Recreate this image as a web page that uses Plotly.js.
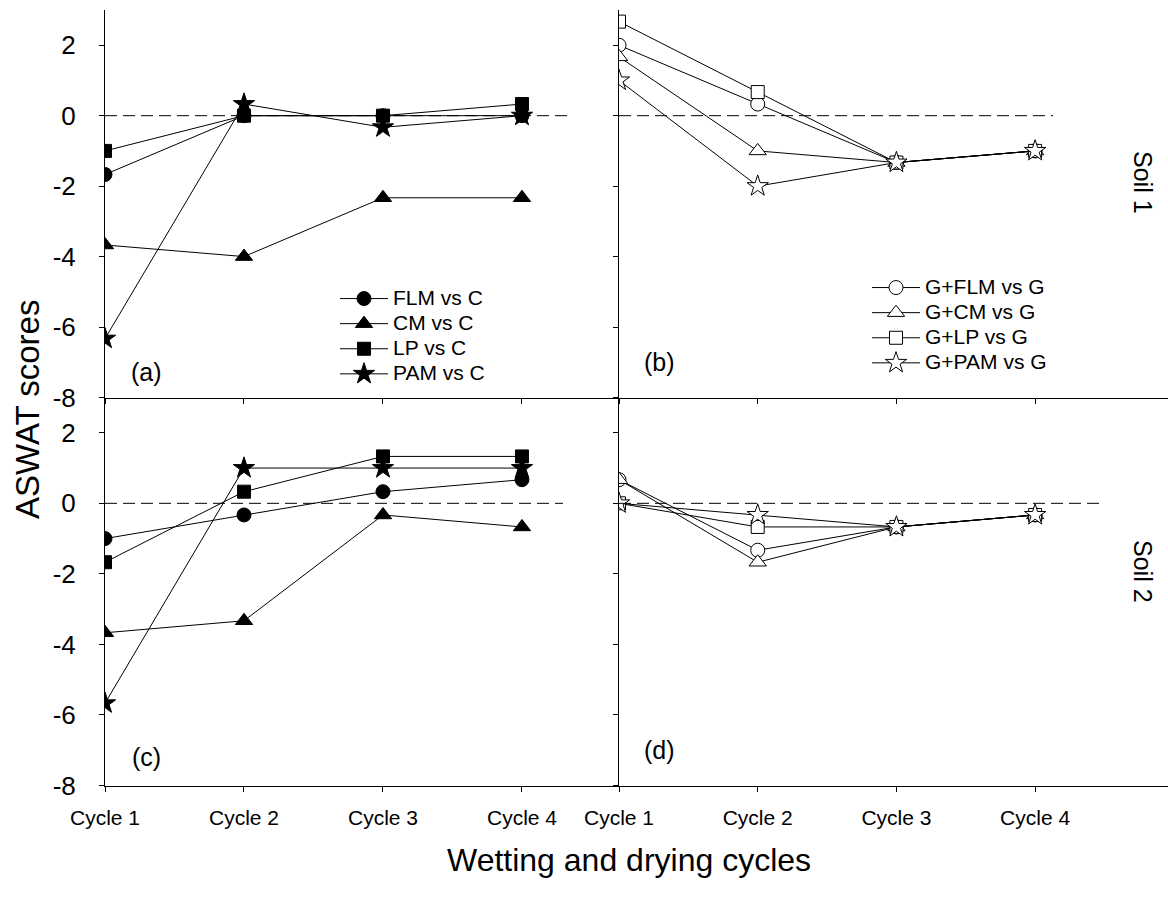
<!DOCTYPE html>
<html>
<head>
<meta charset="utf-8">
<script src="https://cdn.plot.ly/plotly-3.0.1.min.js"></script>
<style>html,body{margin:0;padding:0;background:#fff;}#chart{width:1168px;height:907px;}</style>
</head>
<body>
<div id="chart"></div>
<script>
// ---- data ----
const cycles = ['Cycle 1', 'Cycle 2', 'Cycle 3', 'Cycle 4'];
const yTicks = [-8, -6, -4, -2, 0, 2];

// Soil 1, panel (a)
const s1_FLM = [-1.67, 0, 0, 0];
const s1_CM = [-3.67, -4, -2.33, -2.33];
const s1_LP = [-1, 0, 0, 0.33];
const s1_PAM = [-6.33, 0.33, -0.33, 0];
// Soil 1, panel (b)
const s1_GFLM = [2, 0.33, -1.33, -1];
const s1_GCM = [1.67, -1, -1.33, -1];
const s1_GLP = [2.67, 0.67, -1.33, -1];
const s1_GPAM = [1, -2, -1.33, -1];
// Soil 2, panel (c)
const s2_FLM = [-1, -0.33, 0.33, 0.67];
const s2_CM = [-3.67, -3.33, -0.33, -0.67];
const s2_LP = [-1.67, 0.33, 1.33, 1.33];
const s2_PAM = [-5.67, 1, 1, 1];
// Soil 2, panel (d)
const s2_GFLM = [0.67, -1.33, -0.67, -0.33];
const s2_GCM = [0.67, -1.67, -0.67, -0.33];
const s2_GLP = [0, -0.67, -0.67, -0.33];
const s2_GPAM = [0, -0.33, -0.67, -0.33];

const namesA = ['FLM vs C', 'CM vs C', 'LP vs C', 'PAM vs C'];
const namesB = ['G+FLM vs G', 'G+CM vs G', 'G+LP vs G', 'G+PAM vs G'];

// ---- styling ----
const FONT = 'Liberation Sans, Arial, sans-serif';
const symbols = ['circle', 'triangle-up', 'square', 'star'];
const sizes = [14, 15, 13, 16];
const legendLabel = s => '<span style="font-size:21px">' + s + '</span>';

function tr(y, name, i, xa, ya, filled, showlegend, legend) {
  return {
    x: cycles, y: y, name: legendLabel(name), type: 'scatter', mode: 'lines+markers',
    xaxis: xa, yaxis: ya, showlegend: showlegend, legend: legend,
    line: {color: 'black', width: 1},
    marker: {symbol: symbols[i], size: sizes[i], color: filled ? 'black' : 'white',
             line: {color: 'black', width: 1}}
  };
}

const data = [];
[s1_FLM, s1_CM, s1_LP, s1_PAM].forEach((y, i) => data.push(tr(y, namesA[i], i, 'x', 'y', true, true, 'legend')));
[s1_GFLM, s1_GCM, s1_GLP, s1_GPAM].forEach((y, i) => data.push(tr(y, namesB[i], i, 'x2', 'y2', false, true, 'legend2')));
[s2_FLM, s2_CM, s2_LP, s2_PAM].forEach((y, i) => data.push(tr(y, namesA[i], i, 'x3', 'y3', true, false, 'legend')));
[s2_GFLM, s2_GCM, s2_GLP, s2_GPAM].forEach((y, i) => data.push(tr(y, namesB[i], i, 'x4', 'y4', false, false, 'legend2')));

const W = 1168, H = 907;
const px = v => v / W;
const py = v => 1 - v / H;

const leftDom = [px(105), px(619)];
const rightDom = [px(619), 1];
const topDom = [py(397.5), py(10)];
const botDom = [py(785.5), py(397.5)];

function xAxis(dom, anchor, range, labels) {
  return {
    domain: dom, anchor: anchor, type: 'category', range: range,
    showline: true, linecolor: 'black', linewidth: 1,
    ticks: 'outside', ticklen: 5, tickwidth: 1, tickcolor: 'black',
    showgrid: false, zeroline: false, showticklabels: labels,
    tickfont: {family: FONT, size: 21, color: 'black'}, ticklabelstandoff: 8,
    automargin: false, fixedrange: true
  };
}
function yAxis(dom, anchor, labels) {
  return {
    domain: dom, anchor: anchor, range: [-8, 3],
    tickmode: 'array', tickvals: yTicks, ticktext: yTicks.map(String),
    showline: true, linecolor: 'black', linewidth: 1,
    ticks: 'outside', ticklen: 5, tickwidth: 1, tickcolor: 'black',
    showgrid: false, zeroline: false, showticklabels: labels,
    tickfont: {family: FONT, size: 26, color: 'black'}, ticklabelstandoff: 18,
    automargin: false, fixedrange: true
  };
}

const leftRange = [0, 3.698];
const rightRange = [0, 3.958];

function zeroLine(xref, yref, xend) {
  return {type: 'line', xref: xref, yref: yref, x0: 0, x1: xend, y0: 0, y1: 0,
          line: {color: 'black', width: 1, dash: '12px,6px'}};
}

const ann = (text, x, y, size, extra) => Object.assign({
  text: text, xref: 'paper', yref: 'paper', x: px(x), y: py(y),
  showarrow: false, font: {family: FONT, size: size, color: 'black'},
  xanchor: 'center', yanchor: 'middle'
}, extra || {});

const layout = {
  width: W, height: H,
  margin: {l: 0, r: 0, t: 0, b: 0},
  paper_bgcolor: 'white', plot_bgcolor: 'rgba(0,0,0,0)',
  font: {family: FONT, color: 'black'},
  xaxis: xAxis(leftDom, 'y', leftRange, false),
  xaxis2: xAxis(rightDom, 'y2', rightRange, false),
  xaxis3: xAxis(leftDom, 'y3', leftRange, true),
  xaxis4: xAxis(rightDom, 'y4', rightRange, true),
  yaxis: yAxis(topDom, 'x', true),
  yaxis2: yAxis(topDom, 'x2', false),
  yaxis3: yAxis(botDom, 'x3', true),
  yaxis4: yAxis(botDom, 'x4', false),
  shapes: [
    zeroLine('x', 'y', 3.367),
    zeroLine('x2', 'y2', 3.13),
    zeroLine('x3', 'y3', 3.295),
    zeroLine('x4', 'y4', 3.48)
  ],
  legend: {
    x: px(335), y: py(281), xanchor: 'left', yanchor: 'top',
    bgcolor: 'rgba(0,0,0,0)', borderwidth: 0, itemwidth: 48,
    font: {family: FONT, size: 17, color: 'black'}, tracegroupgap: 0
  },
  legend2: {
    x: px(867), y: py(270), xanchor: 'left', yanchor: 'top',
    bgcolor: 'rgba(0,0,0,0)', borderwidth: 0, itemwidth: 48,
    font: {family: FONT, size: 17, color: 'black'}, tracegroupgap: 0
  },
  annotations: [
    ann('(a)', 146, 372, 25),
    ann('(b)', 659, 362, 25),
    ann('(c)', 146, 757, 25),
    ann('(d)', 659, 750, 25),
    ann('ASWAT scores', 27, 410, 33, {textangle: -90}),
    ann('Wetting and drying cycles', 629, 860, 32),
    ann('Soil 1', 1143, 182, 25, {textangle: 90}),
    ann('Soil 2', 1143, 571, 25, {textangle: 90})
  ]
};

Plotly.newPlot('chart', data, layout, {displayModeBar: false, staticPlot: true});
</script>
</body>
</html>
